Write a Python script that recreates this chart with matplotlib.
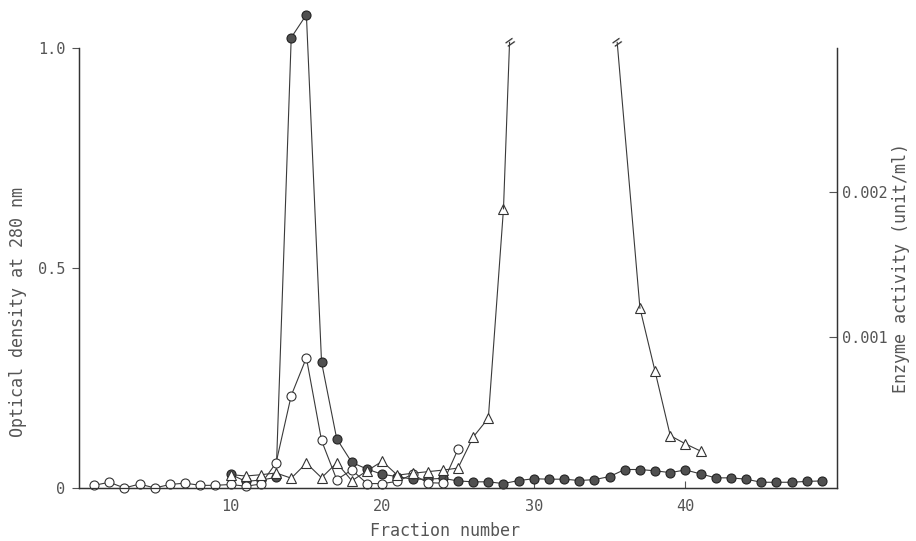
import numpy as np
import matplotlib
matplotlib.use('Agg')
import matplotlib.pyplot as plt

# dados
open_frac = np.arange(1, 26)
open_od = [0.006, 0.013, 0.0, 0.009, 0.0, 0.008, 0.011, 0.006, 0.006, 0.008,
           0.004, 0.009, 0.057, 0.21, 0.296, 0.108, 0.019, 0.041, 0.01, 0.01,
           0.015, 0.031, 0.012, 0.011, 0.088]

filled_frac = np.arange(10, 50)
filled_od = [0.031, 0.015, 0.018, 0.024, 1.024, 1.076, 0.286, 0.112, 0.058, 0.043,
             0.031, 0.026, 0.02, 0.02, 0.022, 0.016, 0.014, 0.014, 0.01, 0.017,
             0.021, 0.02, 0.02, 0.017, 0.019, 0.026, 0.042, 0.042, 0.039, 0.035,
             0.041, 0.032, 0.023, 0.023, 0.02, 0.013, 0.013, 0.013, 0.015, 0.016]

# atividade enzimatica (mU/ml)
tri_frac_a = np.arange(10, 29)
tri_act_a = [0.043, 0.033, 0.042, 0.054, 0.018, 0.122, 0.021, 0.124, 0.0, 0.069,
             0.135, 0.039, 0.052, 0.063, 0.074, 0.088, 0.303, 0.434, 1.886]
tri_frac_b = np.arange(37, 42)
tri_act_b = [1.197, 0.758, 0.313, 0.256, 0.206]

# pontos onde a curva sai da escala
break_frac = [28.4, 35.5]
break_act = [3.04, 3.04]

line_c = '#3a3a3a'
text_c = '#555555'
plt.rcParams['font.family'] = ['DejaVu Sans Mono']

fig = plt.figure(figsize=(9.16, 5.41), dpi=100)
ax = fig.add_axes([0.0862, 0.098, 0.8276, 0.813])
ax2 = ax.twinx()

ax.plot(filled_frac, filled_od, 'o-', color=line_c, lw=0.8, ms=6.5,
        mfc='#505050', mec='#222222', mew=0.8, clip_on=False, zorder=3)
ax.plot(open_frac, open_od, 'o-', color=line_c, lw=0.8, ms=6.5,
        mfc='white', mec='#333333', mew=0.8, clip_on=False, zorder=4)

s = 1e-3
ax2.plot(tri_frac_a, np.array(tri_act_a) * s, '^-', color=line_c, lw=0.8, ms=7,
         mfc='white', mec='#333333', mew=0.8, clip_on=False)
ax2.plot(tri_frac_b, np.array(tri_act_b) * s, '^-', color=line_c, lw=0.8, ms=7,
         mfc='white', mec='#333333', mew=0.8, clip_on=False)
ax2.plot([tri_frac_a[-1], break_frac[0]], [tri_act_a[-1] * s, break_act[0] * s],
         color=line_c, lw=0.8, clip_on=False)
ax2.plot([break_frac[1], tri_frac_b[0]], [break_act[1] * s, tri_act_b[0] * s],
         color=line_c, lw=0.8, clip_on=False)
for bx, by in zip(break_frac, break_act):
    ax2.text(bx, by * s, '=', rotation=35, ha='center', va='center',
             fontsize=12, color=line_c, clip_on=False)

ax.set_xlim(0, 50)
ax.set_ylim(0, 1.0)
ax2.set_ylim(-0.00005, 0.003)

ax.set_xticks([10, 20, 30, 40])
ax.set_yticks([0, 0.5, 1.0])
ax.set_yticklabels(['0', '0.5', '1.0'])
ax2.set_yticks([0.001, 0.002])
ax2.set_yticklabels(['0.001', '0.002'])

ax.tick_params(axis='x', direction='in', length=5, pad=8, labelsize=11,
               colors=text_c, width=0.8)
ax.tick_params(axis='y', direction='out', length=5, pad=5, labelsize=11,
               colors=text_c, width=0.8)
ax2.tick_params(axis='y', direction='in', length=6, pad=3.5, labelsize=11,
                colors=text_c, width=0.8)

for a in (ax, ax2):
    a.spines['top'].set_visible(False)
    for sp in ('left', 'right', 'bottom'):
        a.spines[sp].set_color('#333333')
        a.spines[sp].set_linewidth(0.9)

ax.set_xlabel('Fraction number', fontsize=12, color=text_c)
ax.xaxis.set_label_coords(0.483, -0.078)
ax.set_ylabel('Optical density at 280 nm', fontsize=12, color=text_c)
ax.yaxis.set_label_coords(-0.068, 0.4)
ax2.set_ylabel('Enzyme activity (unit/ml)', fontsize=12, color=text_c)
ax2.yaxis.set_label_coords(1.072, 0.5)

fig.savefig('out.png', dpi=100)
